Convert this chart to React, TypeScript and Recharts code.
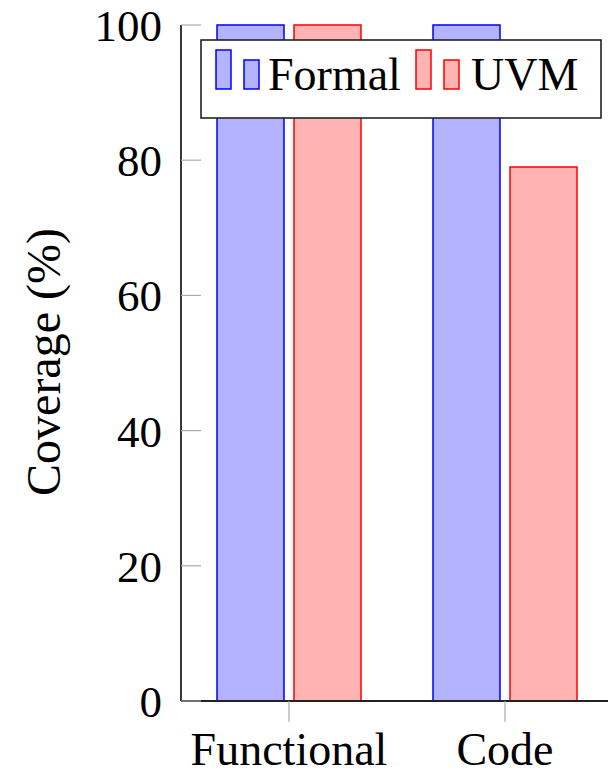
import React from 'react';
import { BarChart, Bar, XAxis, YAxis, Legend } from 'recharts';

const categories = ['Functional', 'Code'];
const formalValues = [100, 100];
const uvmValues = [100, 79];
const yTicks = [0, 20, 40, 60, 80, 100];
const seriesNames = ['Formal', 'UVM'];

const data = categories.map((c, i) => ({ name: c, Formal: formalValues[i], UVM: uvmValues[i] }));

const FONT = '"Liberation Serif", "DejaVu Serif", serif';
const TICK_GRAY = '#aaaaaa';
const AXIS = '#222222';

const colors: Record<string, { fill: string; stroke: string }> = {
  Formal: { fill: '#b3b3ff', stroke: '#0000ff' },
  UVM: { fill: '#ffb3b3', stroke: '#ff0000' },
};

const LeftTick = (props: any) => {
  const { x, y, payload } = props;
  return (
    <g>
      <line x1={x} y1={y} x2={x + 20} y2={y} stroke={TICK_GRAY} strokeWidth={1.2} />
      <text x={x - 19} y={y + 16} textAnchor="end" fontFamily={FONT} fontSize={45} fill="#000">
        {payload.value}
      </text>
    </g>
  );
};

const RightTick = (props: any) => {
  const { x, y } = props;
  return <line x1={x - 20} y1={y} x2={x} y2={y} stroke={TICK_GRAY} strokeWidth={1.2} />;
};

const BottomTick = (props: any) => {
  const { x, y, payload } = props;
  return (
    <g>
      <line x1={x} y1={y} x2={x} y2={y + 21} stroke={TICK_GRAY} strokeWidth={1.2} />
      <text x={x} y={y + 64} textAnchor="middle" fontFamily={FONT} fontSize={46} fill="#000">
        {payload.value}
      </text>
    </g>
  );
};

const TopTick = (props: any) => {
  const { x, y } = props;
  return <line x1={x} y1={y} x2={x} y2={y - 20} stroke={TICK_GRAY} strokeWidth={1.2} />;
};

const YLabel = () => {
  const cx = 43;
  const cy = 362;
  return (
    <text
      x={cx}
      y={cy}
      transform={`rotate(-90, ${cx}, ${cy})`}
      textAnchor="middle"
      dominantBaseline="central"
      fontFamily={FONT}
      fontSize={48}
      fill="#000"
    >
      Coverage (%)
    </text>
  );
};

const LegendContent = () => {
  return (
    <svg width={608} height={130} style={{ display: 'block' }}>
      <rect x={201} y={40} width={400} height={78} fill="#fff" stroke={AXIS} strokeWidth={1.6} />
      {seriesNames.map((name, i) => {
        const ox = i === 0 ? 216 : 416;
        const tx = i === 0 ? 268 : 471;
        const c = colors[name];
        return (
          <g key={name}>
            <rect x={ox} y={50} width={15} height={39} fill={c.fill} stroke={c.stroke} strokeWidth={1.5} />
            <rect x={ox + 28} y={60} width={15} height={29} fill={c.fill} stroke={c.stroke} strokeWidth={1.5} />
            <text x={tx} y={90} fontFamily={FONT} fontSize={46} fill="#000">
              {name}
            </text>
          </g>
        );
      })}
    </svg>
  );
};

export default function App() {
  return (
    <div style={{ position: 'absolute', left: 0, top: 0, width: 608, height: 776, overflow: 'hidden', background: '#fff' }}>
      <BarChart
        width={640}
        height={776}
        data={data}
        margin={{ top: 25, right: 27, bottom: 15, left: 101 }}
        barSize={67}
        barGap={10}
      >
        <XAxis
          dataKey="name"
          xAxisId={0}
          orientation="bottom"
          height={60}
          tickSize={0}
          tickMargin={0}
          axisLine={{ stroke: AXIS, strokeWidth: 1.8 }}
          tickLine={false}
          tick={<BottomTick />}
          interval={0}
        />
        <XAxis
          dataKey="name"
          xAxisId="top"
          orientation="top"
          height={0}
          tickSize={0}
          tickMargin={0}
          axisLine={{ stroke: AXIS, strokeWidth: 1.8 }}
          tickLine={false}
          tick={<TopTick />}
          interval={0}
        />
        <YAxis
          yAxisId={0}
          orientation="left"
          width={80}
          domain={[0, 100]}
          ticks={yTicks}
          tickSize={0}
          tickMargin={0}
          axisLine={{ stroke: AXIS, strokeWidth: 1.8 }}
          tickLine={false}
          tick={<LeftTick />}
          interval={0}
          label={<YLabel />}
        />
        <YAxis
          yAxisId="right"
          orientation="right"
          width={0}
          domain={[0, 100]}
          ticks={yTicks}
          tickSize={0}
          tickMargin={0}
          axisLine={{ stroke: AXIS, strokeWidth: 1.8 }}
          tickLine={false}
          tick={<RightTick />}
          interval={0}
        />
        <Legend layout="horizontal" verticalAlign="middle" align="center" content={<LegendContent />} wrapperStyle={{ left: 0, top: 0, width: 608, height: 130 }} />
        {seriesNames.map((name) => (
          <Bar
            key={name}
            dataKey={name}
            xAxisId={0}
            yAxisId={0}
            fill={colors[name].fill}
            stroke={colors[name].stroke}
            strokeWidth={1.5}
            isAnimationActive={false}
          />
        ))}
      </BarChart>
    </div>
  );
}
